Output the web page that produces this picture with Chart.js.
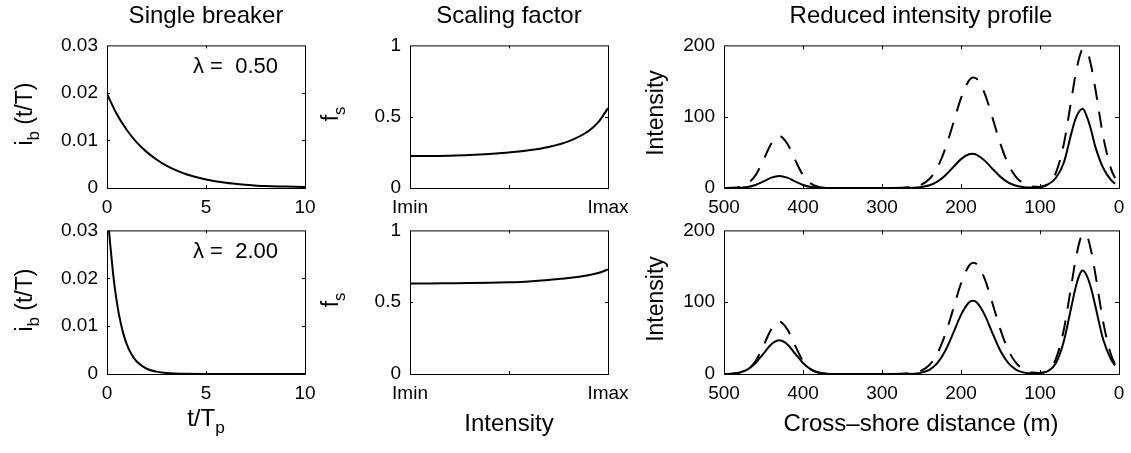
<!DOCTYPE html>
<html>
<head>
<meta charset="utf-8">
<script src="https://cdn.jsdelivr.net/npm/chart.js@4.4.1/dist/chart.umd.min.js"></script>
<style>
  body { margin: 0; background: #fff; }
  #fig { position: relative; width: 1131px; height: 453px; overflow: hidden;
         font-family: "Liberation Sans", Arial, sans-serif; color: #000; }
  #fig canvas { position: absolute; }
  .lbl { position: absolute; white-space: pre; line-height: 1; }
  .ttl { font-size: 24px; transform: translateX(-50%); }
  .xlab { font-size: 24px; transform: translateX(-50%); }
  .ylab { font-size: 23px; transform: translate(-50%, -50%) rotate(-90deg); }
  .sub { font-size: 0.72em; position: relative; top: 0.4em; }
  .lam { font-size: 22px; }
</style>
</head>
<body>
<div id="fig">
  <canvas id="c1"></canvas>
  <canvas id="c2"></canvas>
  <canvas id="c3"></canvas>
  <canvas id="c4"></canvas>
  <canvas id="c5"></canvas>
  <canvas id="c6"></canvas>

  <div class="lbl ttl" style="left:206px;top:3px">Single breaker</div>
  <div class="lbl ttl" style="left:509px;top:3px">Scaling factor</div>
  <div class="lbl ttl" style="left:921px;top:3px">Reduced intensity profile</div>

  <div class="lbl ylab" style="left:24px;top:114px">i<span class="sub">b</span> (t/T)</div>
  <div class="lbl ylab" style="left:24px;top:300px">i<span class="sub">b</span> (t/T)</div>
  <div class="lbl ylab" style="left:330px;top:114px">f<span class="sub">s</span></div>
  <div class="lbl ylab" style="left:330px;top:300px">f<span class="sub">s</span></div>
  <div class="lbl ylab" style="left:655px;top:113px">Intensity</div>
  <div class="lbl ylab" style="left:655px;top:299px">Intensity</div>

  <div class="lbl xlab" style="left:206px;top:406px">t/T<span class="sub">p</span></div>
  <div class="lbl xlab" style="left:509px;top:411px">Intensity</div>
  <div class="lbl xlab" style="left:921px;top:411px">Cross–shore distance (m)</div>

  <div class="lbl lam" style="left:193px;top:55px">λ =  0.50</div>
  <div class="lbl lam" style="left:193px;top:240px">λ =  2.00</div>
</div>

<script>
// single breaker, lambda = 0.5 (top) and lambda = 2 (bottom)
const tTop = [0, 0.5, 1, 1.5, 2, 2.5, 3, 3.5, 4, 5, 6, 7, 8, 9, 10];
const ibTop = [0.0198, 0.0155, 0.0122, 0.0096, 0.0076, 0.0060, 0.0047, 0.0037, 0.0029, 0.0018, 0.0011, 0.0007, 0.0004, 0.0003, 0.0002];
const tBot = [0, 0.1, 0.2, 0.3, 0.4, 0.5, 0.6, 0.8, 1, 1.25, 1.5, 2, 2.5, 3, 4, 6, 10];
const ibBot = [0.036, 0.030, 0.0255, 0.0213, 0.0178, 0.0150, 0.0125, 0.0088, 0.0062, 0.0040, 0.0026, 0.0011, 0.0005, 0.0002, 0.00004, 0, 0];

// scaling factor between Imin (0) and Imax (1)
const sfX = [0, 0.1, 0.2, 0.3, 0.4, 0.5, 0.6, 0.7, 0.8, 0.9, 0.95, 1];
const fsTop = [0.225, 0.225, 0.227, 0.231, 0.238, 0.249, 0.264, 0.288, 0.327, 0.398, 0.46, 0.56];
const fsBot = [0.631, 0.631, 0.632, 0.633, 0.635, 0.639, 0.645, 0.655, 0.668, 0.688, 0.703, 0.728];
const sfTickLabels = ["Imin", "", "Imax"];

// intensity profiles against cross-shore distance (m)
const dist = [500, 490, 480, 470, 460, 450, 440, 430, 420, 410, 400, 390, 380, 370, 360, 300,
  260, 250, 240, 230, 220, 210, 200, 190, 185, 180, 170, 160, 150, 140, 130, 120, 110, 100,
  90, 80, 70, 60, 55, 50, 46, 40, 35, 30, 20, 10, 5];
const intFull = [0, 0.3, 1.5, 6.2, 18, 39.5, 62.5, 73, 62.5, 39.5, 18, 6.2, 1.5, 0.3, 0, 0,
  1.5, 4.8, 12.6, 28.5, 55, 90, 126, 150.6, 155, 153, 132.5, 97.8, 61.5, 32.9, 15, 5.9, 2, 1.4,
  5.2, 20.8, 60.8, 126, 159, 184, 194.6, 190.6, 170, 139.6, 72.3, 26.5, 14];
const intTop = [0, 0.1, 0.4, 1.4, 4.2, 9.2, 14.6, 17, 14.6, 9.2, 4.2, 1.4, 0.4, 0.1, 0, 0,
  0.4, 1.4, 3.8, 8.9, 17.6, 29.1, 40.5, 47.3, 48, 46.5, 38.4, 26.7, 15.6, 7.6, 3.2, 1.1, 0.7, 1.5,
  5, 14, 35, 78, 97, 108, 111, 98, 80, 58, 28, 11, 6];
const intBot = [0, 0.5, 2.1, 6.4, 15.3, 28.5, 41.5, 47, 41.5, 28.5, 15.3, 6.4, 2.1, 0.5, 0.1, 0,
  0.5, 1.9, 5.8, 15, 32, 56.5, 82.4, 99.6, 102, 99.6, 82.4, 56.5, 32, 15, 5.8, 1.9, 1, 1.5,
  4, 15, 45, 95, 120, 138, 144, 135, 118, 95, 48, 20, 12];

// fixed sizes round each plot box so the boxes land where the figure has them
const YW = 80, XH = 40, TH = 15, RW = 30;
const tickFont = { family: "'Liberation Sans', Arial, sans-serif", size: 19 };

// draws the closed axes box with inward tick marks on all four sides (matlab look)
const boxTicks = {
  id: "boxTicks",
  afterDraw(chart, args, opts) {
    const { ctx, chartArea: a } = chart;
    const xs = chart.scales.x, ys = chart.scales.y;
    const len = opts.len || 3;
    ctx.save();
    ctx.strokeStyle = "#000";
    ctx.lineWidth = 1;
    ctx.beginPath();
    xs.ticks.forEach(t => {
      const px = Math.round(xs.getPixelForValue(t.value)) + 0.5;
      if (px < a.left + 2 || px > a.right - 2) return;
      ctx.moveTo(px, a.bottom); ctx.lineTo(px, a.bottom - len);
      ctx.moveTo(px, a.top); ctx.lineTo(px, a.top + len);
    });
    ys.ticks.forEach(t => {
      const py = Math.round(ys.getPixelForValue(t.value)) + 0.5;
      if (py < a.top + 2 || py > a.bottom - 2) return;
      ctx.moveTo(a.left, py); ctx.lineTo(a.left + len, py);
      ctx.moveTo(a.right, py); ctx.lineTo(a.right - len, py);
    });
    ctx.stroke();
    ctx.strokeRect(a.left + 0.5, a.top + 0.5, a.right - a.left, a.bottom - a.top);
    ctx.restore();
  }
};

function toPoints(xs, ys) {
  return xs.map((x, i) => ({ x: x, y: ys[i] }));
}

function line(xs, ys, dashed) {
  return {
    data: toPoints(xs, ys),
    borderColor: "#000",
    backgroundColor: "#000",
    borderWidth: 2,
    borderDash: dashed ? [16, 12] : [],
    pointRadius: 0,
    cubicInterpolationMode: "monotone",
    fill: false
  };
}

function makePanel(id, area, datasets, xOpt, yOpt, tickLen) {
  const cv = document.getElementById(id);
  cv.width = area.r - area.l + YW + RW;
  cv.height = area.b - area.t + TH + XH;
  cv.style.left = (area.l - YW) + "px";
  cv.style.top = (area.t - TH) + "px";

  return new Chart(cv, {
    type: "line",
    data: { datasets: datasets },
    options: {
      responsive: false,
      animation: false,
      events: [],
      layout: { padding: 0 },
      plugins: { legend: { display: false }, tooltip: { enabled: false }, boxTicks: { len: tickLen } },
      scales: {
        x: {
          type: "linear", position: "bottom",
          min: xOpt.min, max: xOpt.max, reverse: !!xOpt.reverse,
          border: { display: false },
          grid: { display: false, drawTicks: false },
          ticks: { stepSize: xOpt.step, autoSkip: false, maxRotation: 0, padding: 8,
                   color: "#000", font: tickFont, callback: xOpt.label },
          afterFit: s => { s.height = XH; }
        },
        y: {
          type: "linear", position: "left",
          min: yOpt.min, max: yOpt.max,
          border: { display: false },
          grid: { display: false, drawTicks: false },
          ticks: { stepSize: yOpt.step, autoSkip: false, padding: 9,
                   color: "#000", font: tickFont, callback: yOpt.label },
          afterFit: s => { s.width = YW; }
        },
        // empty top / right axes only reserve room so label overhang doesn't shrink the box
        xt: {
          type: "linear", axis: "x", position: "top", min: 0, max: 1,
          border: { display: false }, grid: { display: false, drawTicks: false },
          ticks: { display: false },
          afterFit: s => { s.height = TH; }
        },
        yr: {
          type: "linear", axis: "y", position: "right", min: 0, max: 1,
          border: { display: false }, grid: { display: false, drawTicks: false },
          ticks: { display: false },
          afterFit: s => { s.width = RW; }
        }
      }
    },
    plugins: [boxTicks]
  });
}

const plain = v => String(Math.round(v * 1000) / 1000);

const breakerX = { min: 0, max: 10, step: 5, label: plain };
const breakerY = { min: 0, max: 0.03, step: 0.01, label: plain };
const scaleX = { min: 0, max: 1, step: 0.5, label: (v, i) => sfTickLabels[i] };
const scaleY = { min: 0, max: 1, step: 0.5, label: plain };
const profX = { min: 0, max: 500, step: 100, reverse: true, label: plain };
const profY = { min: 0, max: 200, step: 100, label: plain };

makePanel("c1", { l: 107, t: 40, r: 305, b: 188 }, [line(tTop, ibTop)], breakerX, breakerY, 3);
makePanel("c2", { l: 410, t: 40, r: 608, b: 188 }, [line(sfX, fsTop)], scaleX, scaleY, 3);
makePanel("c3", { l: 724, t: 40, r: 1119, b: 188 },
  [line(dist, intFull, true), line(dist, intTop)], profX, profY, 4);
makePanel("c4", { l: 107, t: 225, r: 305, b: 374 }, [line(tBot, ibBot)], breakerX, breakerY, 3);
makePanel("c5", { l: 410, t: 225, r: 608, b: 374 }, [line(sfX, fsBot)], scaleX, scaleY, 3);
makePanel("c6", { l: 724, t: 225, r: 1119, b: 374 },
  [line(dist, intFull, true), line(dist, intBot)], profX, profY, 4);
</script>
</body>
</html>
